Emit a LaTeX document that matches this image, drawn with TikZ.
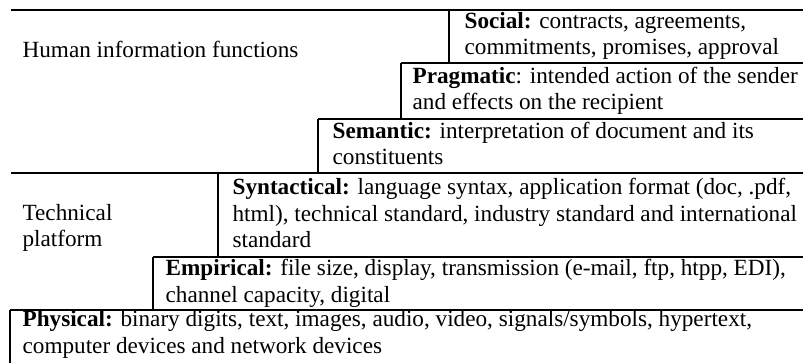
\documentclass[tikz,border=0pt]{standalone}
\usepackage{fontspec}
\setmainfont{Liberation Serif}
\usepackage{tikz}
\usetikzlibrary{positioning}

\begin{document}
\begin{tikzpicture}[x=0.5pt,y=-0.5pt,line width=0.6pt]
\tikzstyle{level}=[anchor=base west,inner sep=0pt,align=left,font=\fontsize{11.6}{13.25}\selectfont]
\useasboundingbox (0,0) rectangle (803,363);

% staircase of layers
\draw (11,10) -- (803,10);
\draw (449,10) -- (449,63);
\draw (401,63) -- (803,63);
\draw (401,63) -- (401,119);
\draw (318,119) -- (803,119);
\draw (318,119) -- (318,173);
\draw (11,173) -- (803,173);
\draw (218,173) -- (218,257);
\draw (153,257) -- (803,257);
\draw (153,257) -- (153,310);
\draw (10,310) -- (803,310);
\draw (10,310) -- (10,363);

% base anchor = baseline of the last line
\node[level] (H) at (22,58) {Human information functions};
\node[level] (T) at (22,247) {Technical\\platform};

\node[level] (So) at (464,55) {\textbf{Social:} contracts, agreements,\\commitments, promises, approval};
\node[level] (Pr) at (412,110) {\textbf{Pragmatic}: intended action of the sender\\and effects on the recipient};
\node[level] (Se) at (332,165) {\textbf{Semantic:} interpretation of document and its\\constituents};
\node[level] (Sy) at (232,248) {\textbf{Syntactical:} language syntax, application format (doc, .pdf,\\html), technical standard, industry standard and international\\standard};
\node[level] (Em) at (165,302) {\textbf{Empirical:} file size, display, transmission (e-mail, ftp, htpp, EDI),\\channel capacity, digital};
\node[level] (Ph) at (22,353) {\textbf{Physical:} binary digits, text, images, audio, video, signals/symbols, hypertext,\\computer devices and network devices};
\end{tikzpicture}
\end{document}
